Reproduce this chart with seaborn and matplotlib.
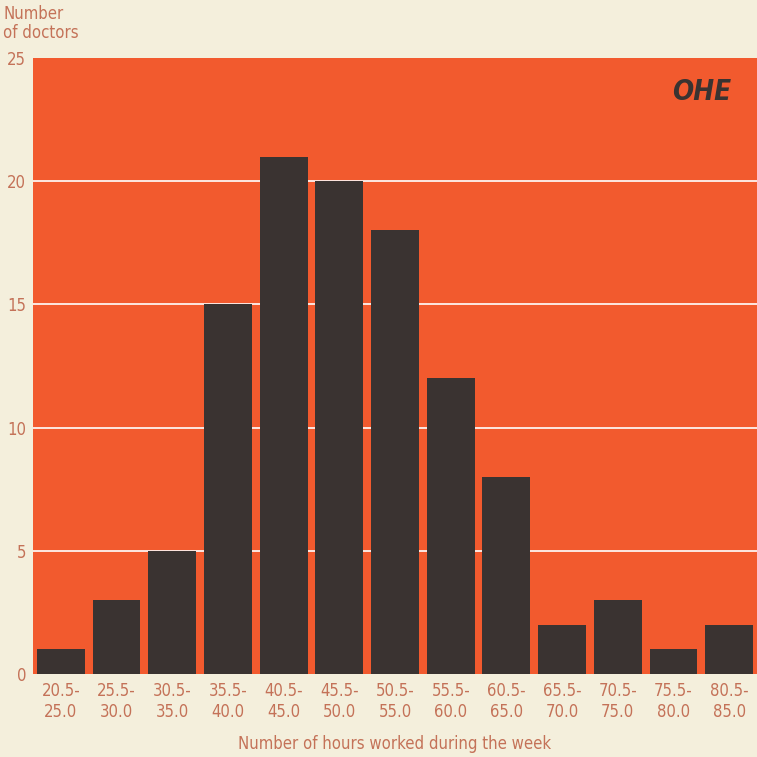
import matplotlib
matplotlib.use("Agg")
import matplotlib.pyplot as plt
import seaborn as sns
import pandas as pd

# data
hour_bands = ["20.5-\n25.0", "25.5-\n30.0", "30.5-\n35.0", "35.5-\n40.0", "40.5-\n45.0",
              "45.5-\n50.0", "50.5-\n55.0", "55.5-\n60.0", "60.5-\n65.0", "65.5-\n70.0",
              "70.5-\n75.0", "75.5-\n80.0", "80.5-\n85.0"]
doctors = [1, 3, 5, 15, 21, 20, 18, 12, 8, 2, 3, 1, 2]
y_ticks = [0, 5, 10, 15, 20, 25]

paper = "#F4EFDC"
orange = "#F25A2E"
bar_col = "#3A3331"
text_col = "#C47258"

sns.set_theme(style="white")
plt.rcParams['font.family'] = ['DejaVu Sans']
plt.rcParams['font.stretch'] = 'condensed'

df = pd.DataFrame({"band": hour_bands, "n": doctors})

fig = plt.figure(figsize=(7.57, 7.57), dpi=100, facecolor=paper)
ax = fig.add_axes([0.0436, 0.1096, 0.9564, 0.8138])
ax.set_facecolor(orange)

sns.barplot(data=df, x="band", y="n", color=bar_col, saturation=1, width=0.86,
            edgecolor="none", ax=ax, zorder=3)

ax.set_ylim(0, 25)
ax.set_xlim(-0.5, len(hour_bands) - 0.5)
ax.set_yticks(y_ticks)
for v in y_ticks[1:-1]:
    ax.axhline(v, color="white", lw=1.2, zorder=1)
ax.grid(False)
for s in ax.spines.values():
    s.set_visible(False)

ax.tick_params(axis="y", length=0, pad=5, labelsize=12, labelcolor=text_col)
ax.tick_params(axis="x", length=0, pad=6, labelsize=12, labelcolor=text_col)
for t in ax.get_xticklabels():
    t.set_linespacing(1.2)
ax.set_ylabel("")
ax.set_xlabel("Number of hours worked during the week", color=text_col,
              fontsize=12, labelpad=10)

fig.text(0.004, 0.993, "Number\nof doctors", ha="left", va="top",
         color=text_col, fontsize=12, linespacing=1.05)

ax.text(0.965, 0.945, "OHE", transform=ax.transAxes, ha="right", va="center",
        fontsize=20, fontweight="bold", fontstyle="italic", color=bar_col)

fig.savefig("out.png", dpi=100, facecolor=paper)
